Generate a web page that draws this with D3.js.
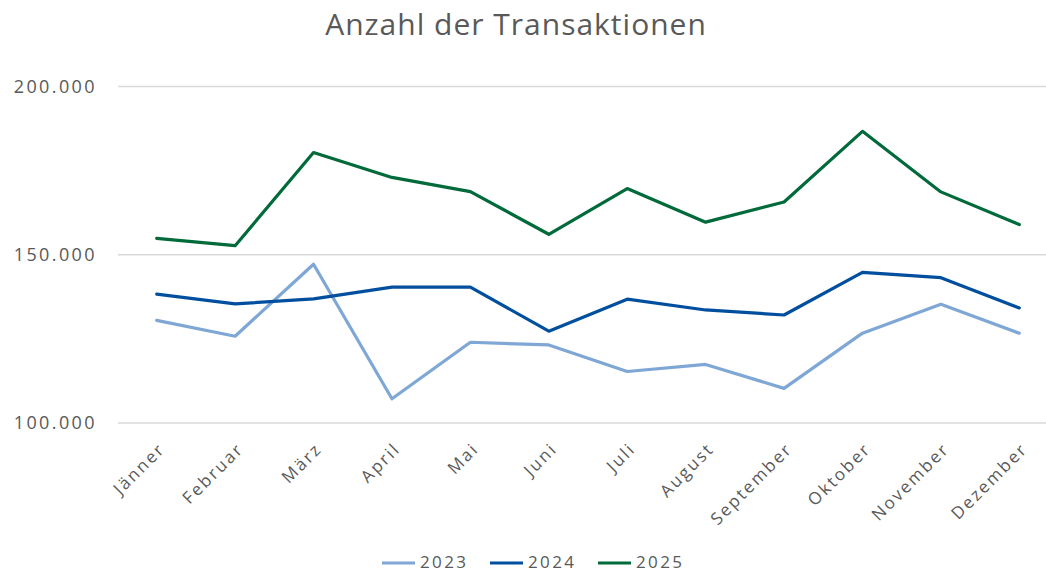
<!DOCTYPE html>
<html>
<head>
<meta charset="utf-8">
<script src="https://cdn.jsdelivr.net/npm/d3@7"></script>
<style>
  body { margin: 0; background: #fff; }
  text { font-family: "Open Sans", sans-serif; font-weight: 400; fill: #595959; }
</style>
</head>
<body>
<svg></svg>
<script>
let months = ['Jänner', 'Februar', 'März', 'April', 'Mai', 'Juni', 'Juli', 'August', 'September', 'Oktober', 'November', 'Dezember']
let years = ['2023', '2024', '2025']
let values2023 = [130500, 125800, 147200, 107200, 124000, 123200, 115300, 117400, 110300, 126700, 135300, 126700]
let values2024 = [138300, 135400, 136900, 140400, 140400, 127300, 136800, 133600, 132100, 144800, 143200, 134200]
let values2025 = [154900, 152700, 180400, 173000, 168800, 156100, 169700, 159700, 165700, 186700, 168700, 159000]
let yTicks = [100000, 150000, 200000]
let colors = ['#7fa7d6', '#004f9f', '#006a3a']

let width = 1046
let height = 573

let svg = d3.select('svg')
    .attr('width', width)
    .attr('height', height)

let series = [values2023, values2024, values2025]

let xScale = d3.scalePoint()
    .domain(months)
    .range([156.7, 1019.3])

let yScale = d3.scaleLinear()
    .domain([100000, 200000])
    .range([423, 86.6])

let fmt = d => d3.format(',')(d).replace(/,/g, '.')

// gridlines
svg.append('g')
    .selectAll('line')
    .data(yTicks)
    .enter()
    .append('line')
    .attr('x1', 118)
    .attr('x2', width)
    .attr('y1', d => yScale(d))
    .attr('y2', d => yScale(d))
    .attr('stroke', '#d9d9d9')
    .attr('stroke-width', 1.5)

// y axis labels
let yAxis = d3.axisLeft(yScale).tickValues(yTicks).tickFormat(fmt).tickSize(0).tickPadding(21)
let yG = svg.append('g')
    .attr('transform', 'translate(118, 0)')
    .call(yAxis)
yG.select('.domain').remove()
yG.selectAll('text')
    .style('font-size', '18px')
    .style('letter-spacing', '2.4px')
    .attr('fill', '#595959')

// x axis labels
let xAxis = d3.axisBottom(xScale).tickSize(0).tickPadding(0)
let xG = svg.append('g')
    .attr('transform', 'translate(0, 423)')
    .call(xAxis)
xG.select('.domain').remove()
xG.selectAll('text')
    .style('font-size', '17px')
    .style('letter-spacing', '2.2px')
    .attr('fill', '#595959')
    .attr('text-anchor', 'end')
    .attr('dy', 0)
    .attr('transform', 'translate(9, 27) rotate(-45)')

// lines
let line = d3.line()
    .x((d, i) => xScale(months[i]))
    .y(d => yScale(d))

svg.append('g')
    .selectAll('path')
    .data(series)
    .enter()
    .append('path')
    .attr('d', d => line(d))
    .attr('fill', 'none')
    .attr('stroke', (d, i) => colors[i])
    .attr('stroke-width', 3.2)
    .attr('stroke-linejoin', 'round')
    .attr('stroke-linecap', 'round')

// title
svg.append('text')
    .attr('x', 516)
    .attr('y', 35)
    .attr('text-anchor', 'middle')
    .style('font-size', '30px')
    .style('letter-spacing', '1px')
    .text('Anzahl der Transaktionen')

// legend
let legendX = [382, 490, 598]
let legend = svg.append('g')
    .selectAll('g')
    .data(years)
    .enter()
    .append('g')
    .attr('transform', (d, i) => 'translate(' + legendX[i] + ', 563)')
legend.append('line')
    .attr('x1', 0)
    .attr('x2', 33)
    .attr('stroke', (d, i) => colors[i])
    .attr('stroke-width', 3.2)
legend.append('text')
    .attr('x', 38)
    .attr('y', 5)
    .style('font-size', '17px')
    .style('letter-spacing', '2.4px')
    .text(d => d)
</script>
</body>
</html>
